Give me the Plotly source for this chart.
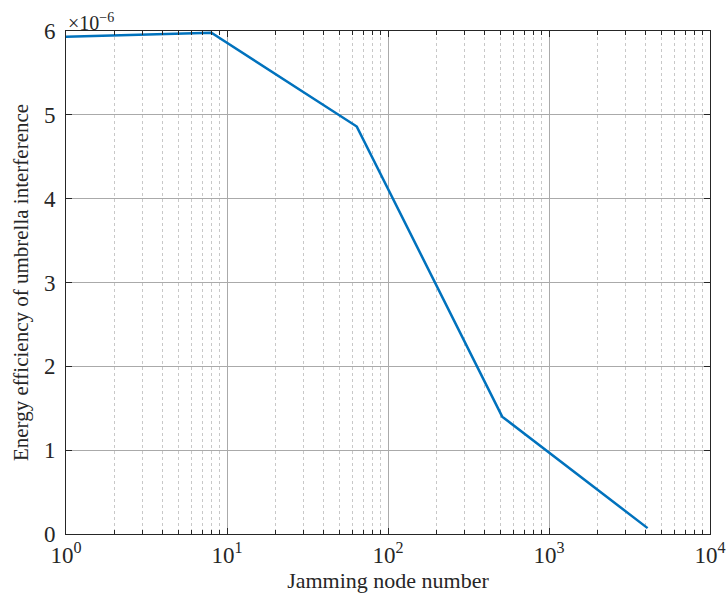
import plotly.graph_objects as go

nodes = [1, 8, 64, 512, 4096]
efficiency = [5.93e-6, 5.98e-6, 4.86e-6, 1.40e-6, 0.07e-6]
y_ticks = [0, 1e-6, 2e-6, 3e-6, 4e-6, 5e-6, 6e-6]
y_ticklabels = ["0", "1", "2", "3", "4", "5", "6"]
x_ticks = [1, 10, 100, 1000, 10000]
x_ticklabels = ["10<sup>0</sup>", "10<sup>1</sup>", "10<sup>2</sup>", "10<sup>3</sup>", "10<sup>4</sup>"]
x_minor_ticks = [m * d for d in [1, 10, 100, 1000] for m in range(2, 10)]

FONT = "Liberation Serif, Times New Roman, serif"
INK = "#262626"

fig = go.Figure()
fig.add_trace(go.Scatter(x=nodes, y=efficiency, mode="lines",
                         line=dict(color="#0072BD", width=2.5), showlegend=False))

axis_common = dict(showline=True, linecolor=INK, linewidth=1, mirror="ticks",
                   ticks="inside", ticklen=6, tickcolor=INK, automargin=False,
                   showgrid=True, gridcolor="#aaaaaa", gridwidth=1,
                   zeroline=False, tickfont=dict(family=FONT, size=23, color=INK))

fig.update_xaxes(type="log", range=[0, 4], tickvals=x_ticks, ticktext=x_ticklabels,
                 title=dict(text="Jamming node number", font=dict(family=FONT, size=22, color=INK), standoff=0),
                 minor=dict(tickvals=x_minor_ticks, ticks="inside", ticklen=4, tickcolor=INK,
                            showgrid=True, gridcolor="#c8c8c8", griddash="dot", gridwidth=1),
                 **axis_common)
fig.update_yaxes(range=[0, 6e-6], tickvals=y_ticks, ticktext=y_ticklabels, ticklabelstandoff=5,
                 title=dict(text="Energy efficiency of umbrella interference", font=dict(family=FONT, size=21, color=INK), standoff=9),
                 **axis_common)

fig.add_annotation(xref="paper", yref="paper", x=0, y=1, xanchor="left", yanchor="bottom",
                   text="×10<sup>−6</sup>", showarrow=False, yshift=-5,
                   font=dict(family=FONT, size=20, color=INK))

fig.update_layout(width=728, height=594, margin=dict(l=66, r=18, t=31, b=60),
                  plot_bgcolor="white", paper_bgcolor="white",
                  font=dict(family=FONT))

fig.write_html("out.html", config={"displayModeBar": False},
               post_script="document.body.style.margin='0px';document.body.style.overflow='hidden';")
